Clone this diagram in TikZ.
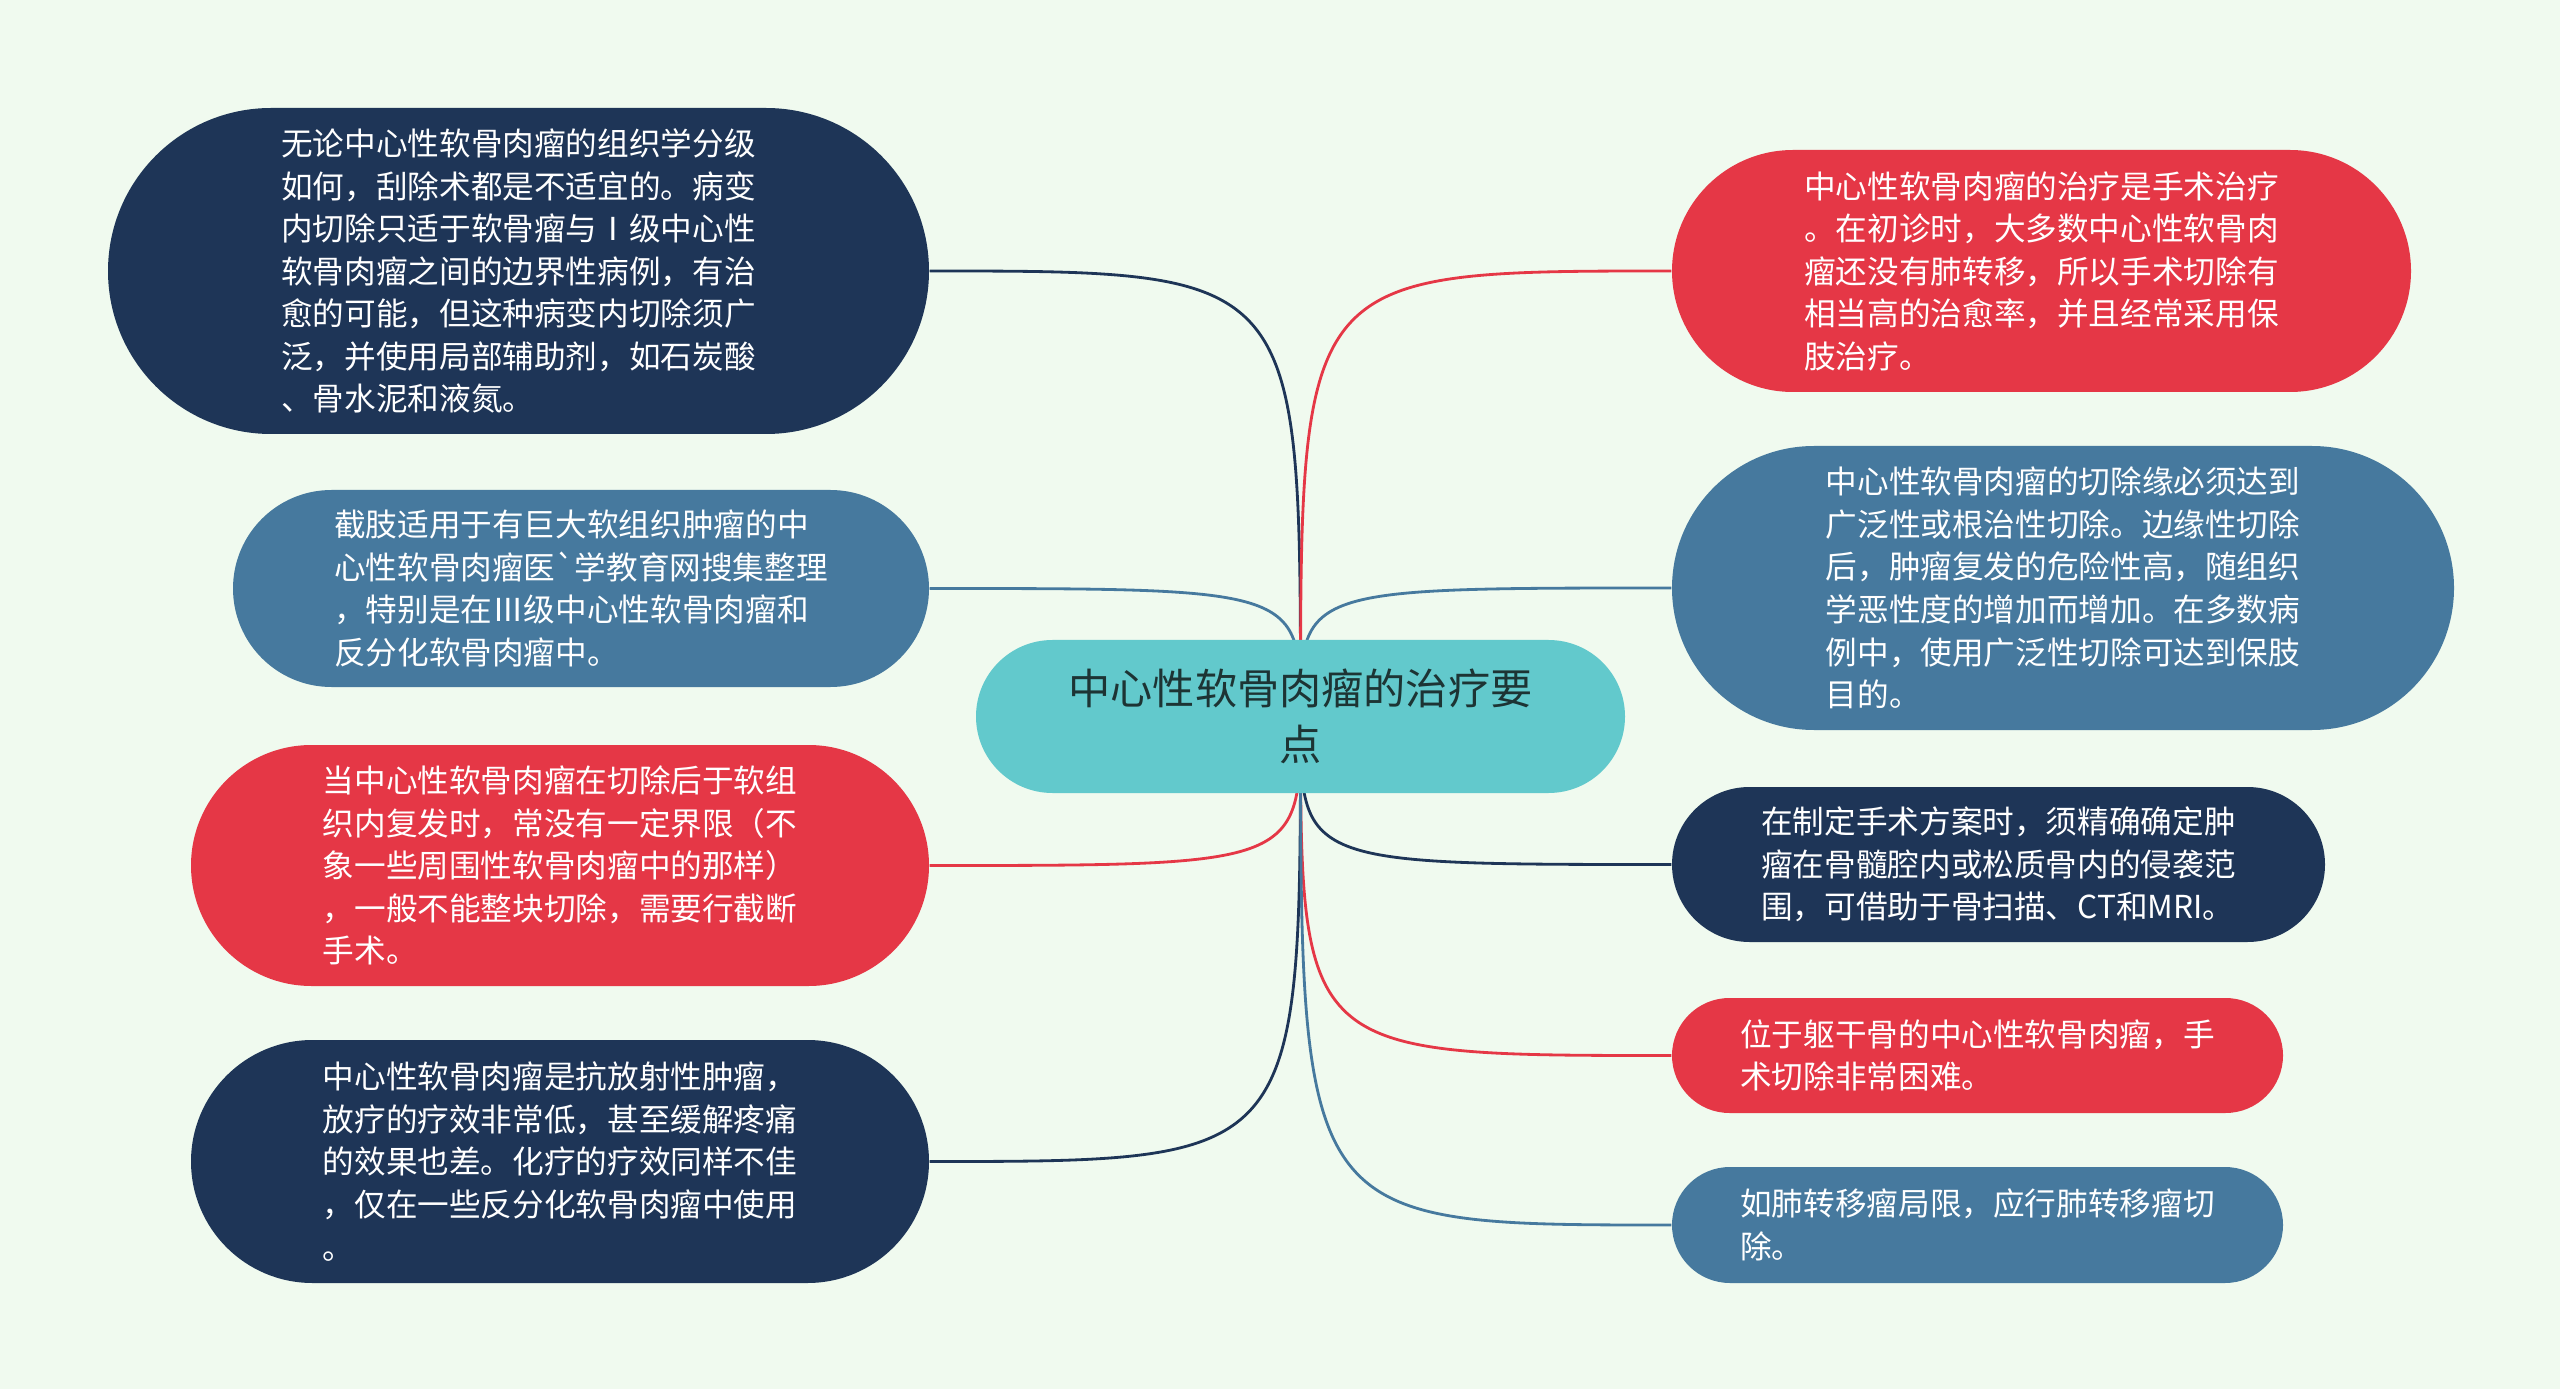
\documentclass[tikz,border=0pt]{standalone}
\usepackage{fontspec}
\newfontfamily\cjk{Noto Sans CJK SC}
\usetikzlibrary{shapes.misc, backgrounds}
\definecolor{bgc}{HTML}{F0FAEF}
\definecolor{navyc}{HTML}{1E3557}
\definecolor{steelc}{HTML}{46799E}
\definecolor{redc}{HTML}{E53746}
\definecolor{hubc}{HTML}{62C9CC}
\definecolor{hubtxt}{HTML}{1D3434}
\tikzset{every node/.append style={inner sep=0pt}}

\begin{document}
\begin{tikzpicture}[
    hub/.style={rounded rectangle, fill=hubc, text=hubtxt, align=center,
        font=\cjk\fontsize{12}{15.8}\selectfont, minimum width=6.49cm, minimum height=1.53cm},
    lf/.style={rounded rectangle, text=white, align=left,
        font=\cjk\fontsize{9}{12.1}\selectfont},
    br/.style={line width=0.8pt}
]
\useasboundingbox (0,0) rectangle (25.6,-13.89);
% ===== 中心主题 =====
\node[hub] (hub) at (13.005,-7.165) {中心性软骨肉瘤的治疗要\\点};
% ===== 左侧分支 =====
\node[lf, fill=navyc, minimum width=8.21cm, minimum height=3.26cm] (l1) at (5.185,-2.71)
    {无论中心性软骨肉瘤的组织学分级\\如何，刮除术都是不适宜的。病变\\内切除只适于软骨瘤与Ⅰ级中心性\\软骨肉瘤之间的边界性病例，有治\\愈的可能，但这种病变内切除须广\\泛，并使用局部辅助剂，如石炭酸\\、骨水泥和液氮。};
\node[lf, fill=steelc, minimum width=6.96cm, minimum height=1.97cm] (l2) at (5.81,-5.885)
    {截肢适用于有巨大软组织肿瘤的中\\心性软骨肉瘤医`学教育网搜集整理\\，特别是在Ⅲ级中心性软骨肉瘤和\\反分化软骨肉瘤中。};
\node[lf, fill=redc, minimum width=7.38cm, minimum height=2.41cm] (l3) at (5.6,-8.655)
    {当中心性软骨肉瘤在切除后于软组\\织内复发时，常没有一定界限（不\\象一些周围性软骨肉瘤中的那样）\\，一般不能整块切除，需要行截断\\手术。};
\node[lf, fill=navyc, minimum width=7.38cm, minimum height=2.43cm] (l4) at (5.6,-11.615)
    {中心性软骨肉瘤是抗放射性肿瘤，\\放疗的疗效非常低，甚至缓解疼痛\\的效果也差。化疗的疗效同样不佳\\，仅在一些反分化软骨肉瘤中使用\\。};
% ===== 右侧分支 =====
\node[lf, fill=redc, minimum width=7.39cm, minimum height=2.42cm] (r1) at (20.415,-2.71)
    {中心性软骨肉瘤的治疗是手术治疗\\。在初诊时，大多数中心性软骨肉\\瘤还没有肺转移，所以手术切除有\\相当高的治愈率，并且经常采用保\\肢治疗。};
\node[lf, fill=steelc, minimum width=7.82cm, minimum height=2.84cm] (r2) at (20.63,-5.88)
    {中心性软骨肉瘤的切除缘必须达到\\广泛性或根治性切除。边缘性切除\\后，肿瘤复发的危险性高，随组织\\学恶性度的增加而增加。在多数病\\例中，使用广泛性切除可达到保肢\\目的。};
\node[lf, fill=navyc, minimum width=6.53cm, minimum height=1.55cm] (r3) at (19.985,-8.645)
    {在制定手术方案时，须精确确定肿\\瘤在骨髓腔内或松质骨内的侵袭范\\围，可借助于骨扫描、CT和MRI。};
\node[lf, fill=redc, minimum width=6.11cm, minimum height=1.15cm] (r4) at (19.775,-10.555)
    {位于躯干骨的中心性软骨肉瘤，手\\术切除非常困难。};
\node[lf, fill=steelc, minimum width=6.11cm, minimum height=1.16cm] (r5) at (19.775,-12.25)
    {如肺转移瘤局限，应行肺转移瘤切\\除。};
% ===== 连线 =====
\begin{scope}[on background layer]
\fill[bgc] (0,0) rectangle (25.6,-13.89);
\draw[br, navyc]  (hub.center) .. controls (hub.center |- l1.east) .. (l1.east);
\draw[br, steelc] (hub.center) .. controls (hub.center |- l2.east) .. (l2.east);
\draw[br, redc]   (hub.center) .. controls (hub.center |- l3.east) .. (l3.east);
\draw[br, navyc]  (hub.center) .. controls (hub.center |- l4.east) .. (l4.east);
\draw[br, redc]   (hub.center) .. controls (hub.center |- r1.west) .. (r1.west);
\draw[br, steelc] (hub.center) .. controls (hub.center |- r2.west) .. (r2.west);
\draw[br, navyc]  (hub.center) .. controls (hub.center |- r3.west) .. (r3.west);
\draw[br, redc]   (hub.center) .. controls (hub.center |- r4.west) .. (r4.west);
\draw[br, steelc] (hub.center) .. controls (hub.center |- r5.west) .. (r5.west);
\end{scope}
\end{tikzpicture}
\end{document}
